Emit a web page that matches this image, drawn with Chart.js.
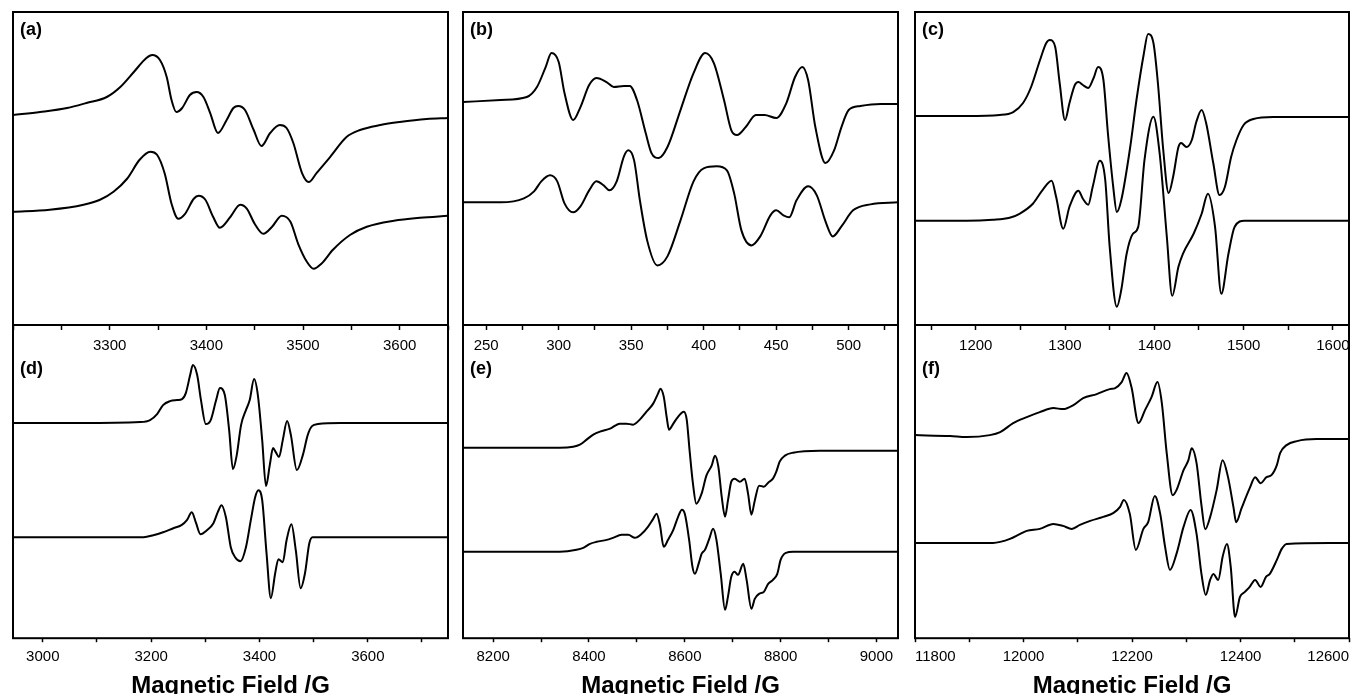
<!DOCTYPE html>
<html>
<head>
<meta charset="utf-8">
<script src="https://cdn.jsdelivr.net/npm/chart.js@4.4.1/dist/chart.umd.min.js"></script>
<style>
  html, body { margin: 0; padding: 0; background: #fff; overflow: hidden; width: 1353px; height: 694px; position: relative; }
  canvas { position: absolute; top: 0; }
</style>
</head>
<body>
<canvas id="col1" width="458" height="720" style="left:0px"></canvas>
<canvas id="col2" width="458" height="720" style="left:450px"></canvas>
<canvas id="col3" width="463" height="720" style="left:900px"></canvas>
<script>
// (a) experimental / simulated
var aExpField = [3200, 3228, 3256, 3276, 3297, 3311, 3325, 3338, 3344, 3352, 3359, 3364, 3369, 3375, 3383, 3390, 3397, 3404, 3412, 3421, 3428, 3433, 3440, 3449, 3457, 3466, 3476, 3483, 3490, 3499, 3506, 3514, 3528, 3545, 3559, 3580, 3600, 3628, 3650];
var aExpSignal = [0, 3, 7, 12, 18, 28, 43, 57, 60, 55, 38, 15, 3, 7, 20, 23, 18, 2, -18, -5, 7, 9, 5, -15, -31, -18, -10, -13, -28, -58, -67, -58, -42, -22, -15, -10, -7, -4, -3];
var aSimField = [3200, 3238, 3273, 3290, 3304, 3318, 3331, 3342, 3349, 3357, 3364, 3371, 3378, 3387, 3392, 3399, 3407, 3414, 3425, 3435, 3442, 3450, 3459, 3468, 3478, 3487, 3495, 3504, 3511, 3519, 3531, 3549, 3566, 3594, 3621, 3650];
var aSimSignal = [0, 2, 7, 12, 20, 33, 52, 60, 57, 38, 8, -7, -2, 13, 16, 12, -5, -16, -5, 7, 3, -12, -22, -15, -4, -10, -32, -50, -57, -52, -38, -23, -15, -9, -6, -4];

// (b)
var bExpField = [234, 260, 278, 285, 291, 295, 300, 304, 310, 315, 321, 326, 333, 338, 345, 349, 354, 360, 364, 369, 375, 384, 393, 401, 407, 414, 419, 423, 429, 436, 442, 450, 457, 463, 468, 472, 477, 484, 490, 495, 500, 508, 522, 534];
var bExpSignal = [-2, 0, 3, 13, 33, 47, 38, 7, -20, -7, 15, 22, 18, 13, 14, 14, 0, -33, -53, -58, -47, -10, 27, 47, 37, 0, -30, -35, -27, -15, -15, -18, -3, 23, 33, 20, -27, -63, -50, -27, -10, -6, -4, -4];
var bSimField = [234, 260, 276, 283, 288, 294, 299, 304, 310, 315, 321, 326, 331, 335, 340, 345, 348, 352, 356, 361, 368, 375, 384, 393, 400, 409, 416, 421, 426, 433, 439, 446, 450, 455, 459, 464, 472, 478, 484, 489, 495, 503, 515, 534];
var bSimSignal = [0, 0, 4, 11, 21, 27, 21, -1, -10, -4, 12, 21, 17, 12, 21, 46, 52, 42, 2, -38, -63, -54, -18, 21, 34, 36, 32, 9, -28, -43, -34, -13, -8, -13, -15, 2, 16, 7, -19, -34, -24, -8, -2, 0];

// (c)
var cExpField = [1132, 1190, 1227, 1242, 1253, 1262, 1272, 1279, 1283, 1289, 1294, 1300, 1305, 1311, 1315, 1320, 1326, 1332, 1337, 1343, 1348, 1354, 1358, 1363, 1373, 1380, 1388, 1393, 1399, 1404, 1410, 1416, 1421, 1427, 1430, 1436, 1442, 1447, 1453, 1458, 1466, 1473, 1479, 1486, 1492, 1500, 1511, 1533, 1563, 1618];
var cExpSignal = [0, 0, 1, 4, 13, 29, 56, 73, 76, 69, 33, -4, 13, 31, 34, 31, 28, 38, 49, 36, -17, -71, -96, -84, -31, 16, 61, 82, 73, 33, -34, -77, -61, -31, -27, -31, -24, -6, 6, -7, -47, -79, -71, -41, -24, -9, -3, -1, -1, -1];
var cSimField = [1132, 1190, 1219, 1238, 1249, 1264, 1275, 1285, 1290, 1298, 1305, 1315, 1320, 1326, 1331, 1339, 1345, 1350, 1358, 1363, 1369, 1376, 1382, 1389, 1399, 1406, 1414, 1420, 1427, 1432, 1444, 1453, 1460, 1468, 1475, 1483, 1490, 1501, 1618];
var cSimSignal = [0, 0, 1, 3, 7, 17, 31, 40, 24, -8, 14, 30, 22, 16, 34, 60, 41, -26, -86, -69, -33, -13, -6, 61, 104, 67, -16, -75, -46, -33, -13, 7, 27, -6, -73, -33, -6, 0, 0];

// (d)
var dExpField = [2945, 3069, 3180, 3198, 3211, 3222, 3235, 3248, 3257, 3264, 3272, 3277, 3285, 3292, 3301, 3310, 3320, 3327, 3336, 3344, 3351, 3358, 3366, 3375, 3382, 3390, 3397, 3405, 3412, 3419, 3425, 3430, 3436, 3443, 3451, 3458, 3469, 3480, 3489, 3497, 3508, 3550, 3748];
var dExpSignal = [0, 0, 1, 3, 9, 18, 22, 23, 24, 30, 48, 58, 48, 23, -1, 3, 23, 35, 28, -7, -46, -32, -2, 13, 23, 44, 28, -17, -63, -42, -25, -29, -34, -17, 2, -12, -47, -32, -12, -3, -1, 0, 0];
var dSimField = [2945, 3186, 3204, 3222, 3241, 3256, 3266, 3275, 3283, 3291, 3303, 3315, 3323, 3330, 3338, 3347, 3355, 3365, 3375, 3384, 3392, 3398, 3405, 3413, 3421, 3429, 3435, 3443, 3450, 3459, 3467, 3476, 3484, 3492, 3498, 3512, 3748];
var dSimSignal = [0, 0, 2, 5, 9, 12, 17, 25, 14, 3, 7, 14, 25, 32, 20, -10, -20, -24, -10, 17, 40, 47, 37, -16, -61, -36, -22, -25, -3, 13, -13, -51, -36, -6, 0, 0, 0];

// (e)
var eExpField = [8137, 8339, 8367, 8381, 8395, 8409, 8423, 8444, 8464, 8478, 8492, 8506, 8520, 8534, 8544, 8549, 8556, 8562, 8567, 8576, 8583, 8598, 8604, 8610, 8617, 8624, 8635, 8645, 8656, 8663, 8670, 8677, 8684, 8690, 8697, 8704, 8715, 8725, 8732, 8739, 8746, 8755, 8765, 8774, 8784, 8791, 8798, 8809, 8826, 8882, 8923, 9045];
var eExpSignal = [0, 0, 1, 3, 8, 13, 16, 19, 24, 24, 23, 28, 36, 44, 54, 59, 51, 31, 18, 24, 29, 36, 28, -3, -36, -56, -46, -28, -18, -8, -19, -49, -69, -53, -34, -31, -34, -31, -46, -67, -53, -38, -39, -35, -31, -24, -14, -8, -5, -3, -3, -3];
var eSimField = [8137, 8339, 8374, 8388, 8402, 8416, 8437, 8450, 8468, 8482, 8496, 8510, 8523, 8534, 8541, 8548, 8556, 8565, 8576, 8586, 8594, 8600, 8609, 8616, 8621, 8630, 8635, 8642, 8651, 8659, 8666, 8675, 8684, 8690, 8697, 8704, 8711, 8722, 8729, 8739, 8746, 8755, 8765, 8774, 8784, 8793, 8800, 8811, 8826, 9045];
var eSimSignal = [0, 0, 2, 4, 8, 10, 12, 14, 17, 17, 14, 18, 25, 33, 38, 27, 5, 12, 22, 35, 42, 38, 12, -15, -22, -10, -2, 2, 13, 23, 12, -22, -58, -45, -25, -20, -23, -12, -28, -57, -47, -42, -40, -32, -28, -22, -8, -1, 0, 0];

// (f)
var fExpField = [11800, 11865, 11895, 11938, 11957, 11981, 12006, 12030, 12055, 12073, 12092, 12110, 12135, 12159, 12169, 12181, 12190, 12199, 12212, 12224, 12236, 12247, 12255, 12264, 12275, 12282, 12295, 12304, 12310, 12319, 12328, 12335, 12344, 12356, 12367, 12377, 12387, 12392, 12402, 12417, 12427, 12437, 12448, 12457, 12467, 12473, 12485, 12504, 12540, 12600];
var fExpSignal = [0, -1, -2, 0, 3, 12, 18, 23, 27, 26, 30, 37, 41, 46, 47, 53, 62, 48, 12, 25, 38, 53, 32, -18, -60, -55, -35, -25, -13, -28, -70, -94, -82, -55, -25, -42, -72, -87, -73, -53, -42, -48, -42, -40, -30, -18, -10, -6, -4, -4];
var fSimField = [11800, 11895, 11944, 11957, 11975, 11994, 12006, 12030, 12055, 12073, 12089, 12104, 12123, 12147, 12166, 12178, 12185, 12196, 12207, 12221, 12230, 12242, 12252, 12261, 12270, 12282, 12295, 12308, 12319, 12328, 12336, 12344, 12350, 12359, 12367, 12375, 12382, 12390, 12399, 12408, 12417, 12427, 12437, 12447, 12454, 12467, 12476, 12485, 12565, 12600];
var fSimSignal = [0, 0, 0, 1, 4, 9, 12, 14, 19, 17, 14, 18, 22, 26, 30, 36, 43, 29, -7, 14, 21, 47, 29, -4, -27, -11, 16, 33, 9, -31, -52, -37, -31, -37, -14, -1, -24, -74, -54, -49, -44, -37, -44, -34, -31, -17, -6, -1, 0, 0];

// labelled ticks of each panel
var aTicks = [3300, 3400, 3500, 3600];
var bTicks = [250, 300, 350, 400, 450, 500];
var cTicks = [1200, 1300, 1400, 1500, 1600];
var dTicks = [3000, 3200, 3400, 3600];
var eTicks = [8200, 8400, 8600, 8800, 9000];
var fTicks = [11800, 12000, 12200, 12400, 12600];

var FONT = 'Arial, "Liberation Sans", sans-serif';
var SPAN = 626; // intensity units across the whole frame height

function curve(field, signal) {
    return field.map(function (x, i) { return { x: x, y: signal[i] }; });
}

// hidden y axis that puts a curve's zero level at fraction f of the frame height
function levelAxis(f) {
    return { type: 'linear', axis: 'y', display: false, min: -(1 - f) * SPAN, max: f * SPAN };
}

function fieldAxis(p, position, pad, extra) {
    var ax = {
        type: 'linear',
        axis: 'x',
        position: position,
        min: p.min,
        max: p.max,
        // minor ticks every p.step, labels only on the listed values
        afterBuildTicks: function (scale) {
            var ticks = [];
            for (var v = Math.ceil(p.min / p.step) * p.step; v <= p.max; v += p.step) {
                ticks.push({ value: v });
            }
            scale.ticks = ticks;
        },
        ticks: {
            autoSkip: false,
            maxRotation: 0,
            padding: pad,
            color: '#000',
            font: { family: FONT, size: 15 },
            align: p.align || 'center',
            callback: function (v) { return p.major.indexOf(v) >= 0 ? String(v) : ''; }
        },
        grid: { drawOnChartArea: false, drawTicks: true, tickLength: 4, tickWidth: 1.5, tickColor: '#000' },
        border: { display: false }
    };
    return Object.assign(ax, extra || {});
}

function line(data, xId, yId) {
    return {
        data: data,
        xAxisID: xId,
        yAxisID: yId,
        borderColor: '#000',
        borderWidth: 2,
        pointRadius: 0,
        fill: false,
        cubicInterpolationMode: 'monotone'
    };
}

// frame round the plot area and the (a)...(f) marks
var panelFrame = {
    id: 'panelFrame',
    afterDraw: function (chart, args, opts) {
        var ctx = chart.ctx, a = chart.chartArea;
        ctx.save();
        ctx.strokeStyle = '#000';
        ctx.lineWidth = 2;
        ctx.strokeRect(a.left, a.top, a.right - a.left, a.bottom - a.top);
        ctx.fillStyle = '#000';
        ctx.font = 'bold 18px ' + FONT;
        ctx.textBaseline = 'middle';
        ctx.fillText(opts.top, a.left + 7, a.top + 18);
        ctx.fillText(opts.bottom, a.left + 7, (a.top + a.bottom) / 2 + 44);
        ctx.restore();
    }
};

function makeColumn(id, top, bottom, pad) {
    return new Chart(document.getElementById(id), {
        type: 'line',
        data: {
            datasets: [
                line(curve(top.expField, top.expSignal), 'xTop', 'yTopExp'),
                line(curve(top.simField, top.simSignal), 'xTop', 'yTopSim'),
                line(curve(bottom.expField, bottom.expSignal), 'x', 'yBotExp'),
                line(curve(bottom.simField, bottom.simSignal), 'x', 'yBotSim')
            ]
        },
        options: {
            responsive: false,
            animation: false,
            events: [],
            layout: { padding: pad },
            plugins: {
                legend: { display: false },
                tooltip: { enabled: false },
                panelFrame: { top: top.label, bottom: bottom.label }
            },
            scales: {
                frameY: { type: 'linear', axis: 'y', display: false, min: 0, max: 2 },
                yTopExp: levelAxis(top.expLevel),
                yTopSim: levelAxis(top.simLevel),
                yBotExp: levelAxis(bottom.expLevel),
                yBotSim: levelAxis(bottom.simLevel),
                xTop: fieldAxis(top, { frameY: 1 }, 8, {
                    border: { display: true, color: '#000', width: 2 }
                }),
                x: fieldAxis(bottom, 'bottom', 6, {
                    title: {
                        display: true,
                        text: 'Magnetic Field /G',
                        color: '#000',
                        font: { family: FONT, size: 24, weight: 'bold' },
                        padding: { top: 0, bottom: 0 }
                    }
                })
            }
        },
        plugins: [panelFrame]
    });
}

makeColumn('col1',
    { label: '(a)', min: 3200, max: 3650, step: 50, major: aTicks,
      expField: aExpField, expSignal: aExpSignal, simField: aSimField, simSignal: aSimSignal,
      expLevel: 0.1645, simLevel: 0.319 },
    { label: '(d)', min: 2945, max: 3748, step: 100, major: dTicks,
      expField: dExpField, expSignal: dExpSignal, simField: dSimField, simSignal: dSimSignal,
      expLevel: 0.6565, simLevel: 0.8387 },
    { left: 13, right: 10, top: 12, bottom: 19 });

makeColumn('col2',
    { label: '(b)', min: 234, max: 534, step: 25, major: bTicks,
      expField: bExpField, expSignal: bExpSignal, simField: bSimField, simSignal: bSimSignal,
      expLevel: 0.1406, simLevel: 0.304 },
    { label: '(e)', min: 8137, max: 9045, step: 100, major: eTicks,
      expField: eExpField, expSignal: eExpSignal, simField: eSimField, simSignal: eSimSignal,
      expLevel: 0.6957, simLevel: 0.8621 },
    { left: 13, right: 10, top: 12, bottom: 19 });

makeColumn('col3',
    { label: '(c)', min: 1132, max: 1618, step: 50, major: cTicks,
      expField: cExpField, expSignal: cExpSignal, simField: cSimField, simSignal: cSimSignal,
      expLevel: 0.1661, simLevel: 0.3334 },
    { label: '(f)', min: 11800, max: 12600, step: 100, major: fTicks, align: 'inner',
      expField: fExpField, expSignal: fExpSignal, simField: fSimField, simSignal: fSimSignal,
      expLevel: 0.6757, simLevel: 0.8478 },
    { left: 15, right: 14, top: 12, bottom: 19 });
</script>
</body>
</html>
